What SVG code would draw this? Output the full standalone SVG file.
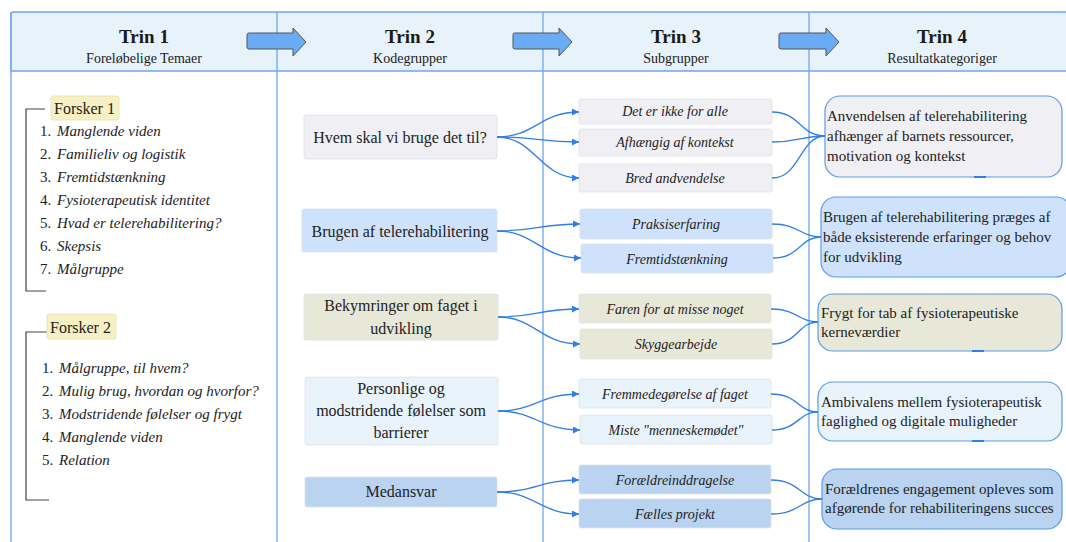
<svg xmlns="http://www.w3.org/2000/svg" width="1066" height="542" viewBox="0 0 1066 542">
<style>
.grid{stroke:#6ea6ee;stroke-width:1.3;fill:none}
.hdr{fill:#e8f2fa;stroke:#6ea6ee;stroke-width:1.3}
.hd{font-family:"Liberation Serif",serif;fill:#1a1a1a;text-anchor:middle}
.ht{font-size:19px;font-weight:bold}
.hs{font-size:14px}
.blk{fill:#6aabf5;stroke:#555;stroke-width:1}
.lst{font-family:"Liberation Serif",serif;font-size:15px;fill:#222}
.it{font-style:italic}
.br{stroke:#444;stroke-width:1.2;fill:none}
.lab{fill:#f6f0c4;stroke:#e8e2b0;stroke-width:0.8}
.n2{stroke:#dde2ea;stroke-width:0.8}
.t2{font-family:"Liberation Serif",serif;font-size:16px;fill:#222;text-anchor:middle}
.t3{font-family:"Liberation Serif",serif;font-size:14px;font-style:italic;fill:#222;text-anchor:middle}
.n4{stroke:#5b9be6;stroke-width:1.2}
.t4{font-family:"Liberation Serif",serif;font-size:15px;fill:#222}
.c1{fill:#efeff4}.c2{fill:#cfe2fb}.c3{fill:#e8e8d9}.c4{fill:#e8f3fb}.c5{fill:#b9d3f0}
.cn{stroke:#2f7fe4;stroke-width:1.3;fill:none}
.tab{stroke:#2f7fe4;stroke-width:2}
</style>
<defs>
<marker id="ah" viewBox="0 0 10 10" refX="10" refY="5" markerWidth="7" markerHeight="7" markerUnits="userSpaceOnUse" orient="auto">
<path d="M0,0 L10,5 L0,10 z" fill="#2f7fe4"/>
</marker>
</defs>
<rect width="1066" height="542" fill="#ffffff"/>
<g id="grid">
<path d="M11,71 V15 Q11,12 14,12 H1068 V71 Z" class="hdr"/>
<line x1="11" y1="12" x2="11" y2="542" class="grid"/>
<line x1="277" y1="12" x2="277" y2="542" class="grid"/>
<line x1="543" y1="12" x2="543" y2="542" class="grid"/>
<line x1="809" y1="12" x2="809" y2="542" class="grid"/>
</g>
<g id="header">
<text x="144" y="43" class="hd ht">Trin 1</text>
<text x="144" y="63" class="hd hs">Foreløbelige Temaer</text>
<text x="410" y="43" class="hd ht">Trin 2</text>
<text x="410" y="63" class="hd hs">Kodegrupper</text>
<text x="676" y="43" class="hd ht">Trin 3</text>
<text x="676" y="63" class="hd hs">Subgrupper</text>
<text x="942" y="43" class="hd ht">Trin 4</text>
<text x="942" y="63" class="hd hs">Resultatkategoriger</text>
<path class="blk" d="M249,33 H293 V28 L306,42 L293,56 V49 H249 Q247,49 247,47 V35 Q247,33 249,33 Z"/>
<path class="blk" d="M515,33 H559 V28 L572,42 L559,56 V49 H515 Q513,49 513,47 V35 Q513,33 515,33 Z"/>
<path class="blk" d="M781,33 H826 V28 L839,42 L826,56 V49 H781 Q779,49 779,47 V35 Q779,33 781,33 Z"/>
</g>
<g id="forsker1">
<path class="br" d="M45,109 H26 V291 H46"/>
<rect class="lab" x="51" y="96" width="68" height="24" rx="2"/>
<text x="54" y="114" class="lst" style="font-size:16px">Forsker 1</text>
<g class="lst">
<text x="40" y="136">1.</text><text x="57" y="136" class="it">Manglende viden</text>
<text x="40" y="159">2.</text><text x="57" y="159" class="it">Familieliv og logistik</text>
<text x="40" y="182">3.</text><text x="57" y="182" class="it">Fremtidstænkning</text>
<text x="40" y="205">4.</text><text x="57" y="205" class="it">Fysioterapeutisk identitet</text>
<text x="40" y="228">5.</text><text x="57" y="228" class="it">Hvad er telerehabilitering?</text>
<text x="40" y="251">6.</text><text x="57" y="251" class="it">Skepsis</text>
<text x="40" y="274">7.</text><text x="57" y="274" class="it">Målgruppe</text>
</g>
</g>
<g id="forsker2">
<path class="br" d="M47,332 H26 V500 H49"/>
<rect class="lab" x="47" y="314" width="69" height="25" rx="2"/>
<text x="50" y="333" class="lst" style="font-size:16px">Forsker 2</text>
<g class="lst">
<text x="42" y="373">1.</text><text x="59" y="373" class="it">Målgruppe, til hvem?</text>
<text x="42" y="396">2.</text><text x="59" y="396" class="it">Mulig brug, hvordan og hvorfor?</text>
<text x="42" y="419">3.</text><text x="59" y="419" class="it">Modstridende følelser og frygt</text>
<text x="42" y="442">4.</text><text x="59" y="442" class="it">Manglende viden</text>
<text x="42" y="465">5.</text><text x="59" y="465" class="it">Relation</text>
</g>
</g>
<g id="k1"><rect class="n2 c1" x="304" y="115" width="193" height="44" rx="2"/><text x="400" y="143" class="t2">Hvem skal vi bruge det til?</text></g>
<g id="k2"><rect class="n2 c2" x="302" y="209" width="195" height="43" rx="2"/><text x="400" y="237" class="t2">Brugen af telerehabilitering</text></g>
<g id="k3"><rect class="n2 c3" x="304" y="294" width="194" height="46" rx="2"/><text x="401" y="311" class="t2">Bekymringer om faget i</text><text x="401" y="334" class="t2">udvikling</text></g>
<g id="k4"><rect class="n2 c4" x="305" y="377" width="193" height="68" rx="2"/><text x="401" y="394" class="t2">Personlige og</text><text x="401" y="416" class="t2">modstridende følelser som</text><text x="401" y="438" class="t2">barrierer</text></g>
<g id="k5"><rect class="n2 c5" x="305" y="477" width="192" height="30" rx="2"/><text x="401" y="497" class="t2">Medansvar</text></g>
<g id="s1"><rect class="n2 c1" x="579" y="99" width="193" height="25" rx="2"/><text x="675" y="116" class="t3">Det er ikke for alle</text></g>
<g id="s2"><rect class="n2 c1" x="579" y="129" width="193" height="27" rx="2"/><text x="675" y="147" class="t3">Afhængig af kontekst</text></g>
<g id="s3"><rect class="n2 c1" x="579" y="164" width="193" height="28" rx="2"/><text x="675" y="183" class="t3">Bred andvendelse</text></g>
<g id="s4"><rect class="n2 c2" x="580" y="209" width="192" height="30" rx="2"/><text x="676" y="229" class="t3">Praksiserfaring</text></g>
<g id="s5"><rect class="n2 c2" x="581" y="244" width="192" height="29" rx="2"/><text x="677" y="264" class="t3">Fremtidstænkning</text></g>
<g id="s6"><rect class="n2 c3" x="579" y="294" width="192" height="29" rx="2"/><text x="675" y="314" class="t3">Faren for at misse noget</text></g>
<g id="s7"><rect class="n2 c3" x="580" y="329" width="192" height="30" rx="2"/><text x="676" y="349" class="t3">Skyggearbejde</text></g>
<g id="s8"><rect class="n2 c4" x="579" y="379" width="192" height="29" rx="2"/><text x="675" y="399" class="t3">Fremmedegørelse af faget</text></g>
<g id="s9"><rect class="n2 c4" x="580" y="415" width="192" height="29" rx="2"/><text x="676" y="435" class="t3">Miste "menneskemødet"</text></g>
<g id="s10"><rect class="n2 c5" x="579" y="465" width="192" height="29" rx="2"/><text x="675" y="485" class="t3">Forældreinddragelse</text></g>
<g id="s11"><rect class="n2 c5" x="579" y="499" width="192" height="29" rx="2"/><text x="675" y="519" class="t3">Fælles projekt</text></g>
<g id="r1"><rect class="n4 c1" x="825" y="96" width="237" height="81" rx="15"/><line class="tab" x1="974" y1="177" x2="986" y2="177"/><text class="t4"><tspan x="827" y="121">Anvendelsen af telerehabilitering</tspan><tspan x="827" y="141">afhænger af barnets ressourcer,</tspan><tspan x="827" y="161">motivation og kontekst</tspan></text></g>
<g id="r2"><rect class="n4 c2" x="821" y="197" width="250" height="80" rx="15"/><text class="t4"><tspan x="823" y="222">Brugen af telerehabilitering præges af</tspan><tspan x="823" y="242">både eksisterende erfaringer og behov</tspan><tspan x="823" y="262">for udvikling</tspan></text></g>
<g id="r3"><rect class="n4 c3" x="818" y="294" width="244" height="57" rx="15"/><line class="tab" x1="972" y1="351" x2="984" y2="351"/><text class="t4"><tspan x="821" y="318">Frygt for tab af fysioterapeutiske</tspan><tspan x="821" y="337">kerneværdier</tspan></text></g>
<g id="r4"><rect class="n4 c4" x="818" y="382" width="244" height="59" rx="15"/><line class="tab" x1="972" y1="441" x2="984" y2="441"/><text class="t4"><tspan x="821" y="407">Ambivalens mellem fysioterapeutisk</tspan><tspan x="821" y="426">faglighed og digitale muligheder</tspan></text></g>
<g id="r5"><rect class="n4 c5" x="822" y="469" width="240" height="60" rx="15"/><text class="t4"><tspan x="825" y="494">Forældrenes engagement opleves som</tspan><tspan x="825" y="513">afgørende for rehabiliteringens succes</tspan></text></g>
<g id="connectors">
<path class="cn" marker-end="url(#ah)" d="M497,137 C535,137 540,112 579,112"/>
<path class="cn" marker-end="url(#ah)" d="M497,137 C535,137 540,142 579,142"/>
<path class="cn" marker-end="url(#ah)" d="M497,137 C535,137 540,178 579,178"/>
<path class="cn" marker-end="url(#ah)" d="M497,231 C535,231 540,224 580,224"/>
<path class="cn" marker-end="url(#ah)" d="M497,231 C535,231 540,258 581,258"/>
<path class="cn" marker-end="url(#ah)" d="M498,317 C535,317 540,309 579,309"/>
<path class="cn" marker-end="url(#ah)" d="M498,317 C535,317 540,344 580,344"/>
<path class="cn" marker-end="url(#ah)" d="M498,411 C535,411 540,394 579,394"/>
<path class="cn" marker-end="url(#ah)" d="M498,411 C535,411 540,430 580,430"/>
<path class="cn" marker-end="url(#ah)" d="M497,492 C535,492 540,480 579,480"/>
<path class="cn" marker-end="url(#ah)" d="M497,492 C535,492 540,514 579,514"/>
<path class="cn" d="M772,112 C800,112 800,136 825,136"/>
<path class="cn" d="M772,142 C800,142 800,136 825,136"/>
<path class="cn" d="M772,178 C800,178 800,136 825,136"/>
<path class="cn" d="M772,224 C800,224 800,237 821,237"/>
<path class="cn" d="M773,258 C800,258 800,237 821,237"/>
<path class="cn" d="M771,309 C798,309 798,322 818,322"/>
<path class="cn" d="M772,344 C798,344 798,322 818,322"/>
<path class="cn" d="M771,394 C798,394 798,412 818,412"/>
<path class="cn" d="M772,430 C798,430 798,412 818,412"/>
<path class="cn" d="M771,480 C800,480 800,499 822,499"/>
<path class="cn" d="M771,514 C800,514 800,499 822,499"/>
</g>
</svg>
